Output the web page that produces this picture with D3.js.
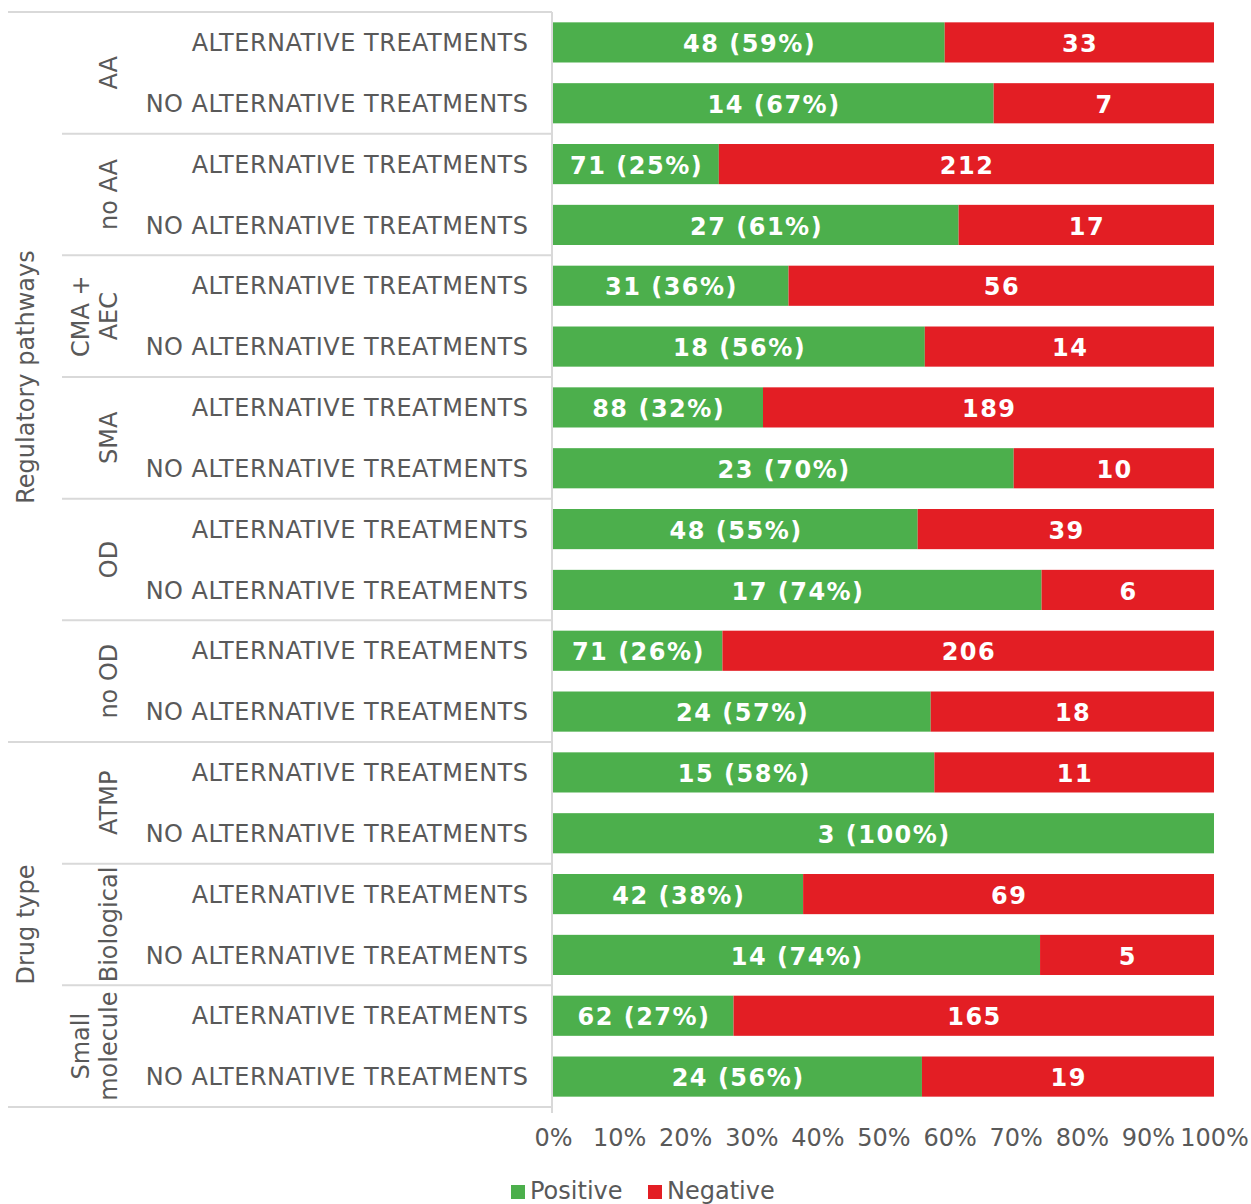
<!DOCTYPE html>
<html><head><meta charset="utf-8">
<script src="https://cdn.jsdelivr.net/npm/d3@7"></script>
<style>
html,body{margin:0;padding:0;background:#fff;}
text{font-family:"DejaVu Sans",Verdana,sans-serif;}
</style></head>
<body>
<svg id="chart" width="1251" height="1204"></svg>
<script>
// ---- data ----
const outerGroups = ["Regulatory pathways", "Drug type"];
const innerGroups = [
  {outer: "Regulatory pathways", lines: ["AA"]},
  {outer: "Regulatory pathways", lines: ["no AA"]},
  {outer: "Regulatory pathways", lines: ["CMA +", "AEC"]},
  {outer: "Regulatory pathways", lines: ["SMA"]},
  {outer: "Regulatory pathways", lines: ["OD"]},
  {outer: "Regulatory pathways", lines: ["no OD"]},
  {outer: "Drug type", lines: ["ATMP"]},
  {outer: "Drug type", lines: ["Biological"]},
  {outer: "Drug type", lines: ["Small", "molecule"]}
];
const rowCategories = ["ALTERNATIVE TREATMENTS", "NO ALTERNATIVE TREATMENTS"];
const positive = [48, 14, 71, 27, 31, 18, 88, 23, 48, 17, 71, 24, 15, 3, 42, 14, 62, 24];
const negative = [33, 7, 212, 17, 56, 14, 189, 10, 39, 6, 206, 18, 11, 0, 69, 5, 165, 19];
const xTicks = [0, 0.1, 0.2, 0.3, 0.4, 0.5, 0.6, 0.7, 0.8, 0.9, 1.0];
const seriesNames = ["Positive", "Negative"];
const seriesColors = ["#4caf4c", "#e31e24"];

(function () {
// ---- build rows ----
const rows = [];
innerGroups.forEach((g, gi) => {
  rowCategories.forEach((c, ci) => {
    const i = gi * 2 + ci;
    rows.push({id: i, group: gi, label: c, pos: positive[i], neg: negative[i]});
  });
});

const svg = d3.select("#chart");
const textColor = "#595959";
const lineColor = "#d9d9d9";
const pLeft = 553, pRight = 1214, pTop = 12, pBottom = 1107;
const fs = 24;

const x = d3.scaleLinear().domain([0, 1]).range([pLeft, pRight]);
const y = d3.scaleBand().domain(rows.map(r => r.id)).range([pTop, pBottom])
  .paddingInner(0.34).paddingOuter(0.17);
const step = y.step();
const groupTop = gi => pTop + gi * 2 * step;
const groupBottom = gi => pTop + (gi + 1) * 2 * step;

// ---- table lines ----
const lines = svg.append("g").attr("stroke", lineColor).attr("stroke-width", 2);
lines.append("line").attr("x1", 8).attr("x2", 552).attr("y1", pTop).attr("y2", pTop);
innerGroups.forEach((g, gi) => {
  if (gi === 0) return;
  const isOuterBoundary = innerGroups[gi - 1].outer !== g.outer;
  lines.append("line").attr("x1", isOuterBoundary ? 8 : 62).attr("x2", 552)
    .attr("y1", groupTop(gi)).attr("y2", groupTop(gi));
});
lines.append("line").attr("x1", 8).attr("x2", 552).attr("y1", pBottom).attr("y2", pBottom);
lines.append("line").attr("x1", 552).attr("x2", 552).attr("y1", pTop).attr("y2", pBottom + 6);

// ---- bars ----
const bars = svg.append("g");
rows.forEach(r => {
  const total = r.pos + r.neg;
  const f = r.pos / total;
  const yy = y(r.id), h = y.bandwidth();
  bars.append("rect").attr("x", x(0)).attr("y", yy).attr("width", x(f) - x(0)).attr("height", h)
    .attr("fill", seriesColors[0]);
  if (r.neg > 0) {
    bars.append("rect").attr("x", x(f)).attr("y", yy).attr("width", x(1) - x(f)).attr("height", h)
      .attr("fill", seriesColors[1]);
  }
  bars.append("text").attr("x", (x(0) + x(f)) / 2 + 0.75).attr("y", yy + h / 2 + 1)
    .attr("dy", "0.36em").attr("text-anchor", "middle")
    .attr("fill", "#fff").attr("font-weight", "bold").attr("font-size", 24)
    .attr("letter-spacing", 1.5)
    .text(`${r.pos} (${Math.round(f * 100)}%)`);
  if (r.neg > 0) {
    bars.append("text").attr("x", (x(f) + x(1)) / 2 + 0.75).attr("y", yy + h / 2 + 1)
      .attr("dy", "0.36em").attr("text-anchor", "middle")
      .attr("fill", "#fff").attr("font-weight", "bold").attr("font-size", 24)
      .attr("letter-spacing", 1.5)
      .text(r.neg);
  }
});

// ---- row labels ----
svg.append("g").selectAll("text").data(rows).join("text")
  .attr("x", 528.5).attr("y", d => y(d.id) + y.bandwidth() / 2)
  .attr("dy", "0.36em").attr("text-anchor", "end")
  .attr("fill", textColor).attr("font-size", fs).attr("letter-spacing", 0.5)
  .text(d => d.label);

// ---- inner group labels ----
innerGroups.forEach((g, gi) => {
  const cy = (groupTop(gi) + groupBottom(gi)) / 2;
  const n = g.lines.length;
  g.lines.forEach((ln, li) => {
    const cx = 108 - (n - 1 - li) * 28;
    svg.append("text").attr("transform", `translate(${cx},${cy}) rotate(-90)`)
      .attr("text-anchor", "middle").attr("dy", "0.36em")
      .attr("fill", textColor).attr("font-size", fs).text(ln);
  });
});

// ---- outer group labels ----
outerGroups.forEach(og => {
  const idx = innerGroups.map((g, i) => g.outer === og ? i : -1).filter(i => i >= 0);
  const cy = (groupTop(idx[0]) + groupBottom(idx[idx.length - 1])) / 2;
  svg.append("text").attr("transform", `translate(25,${cy}) rotate(-90)`)
    .attr("text-anchor", "middle").attr("dy", "0.36em")
    .attr("fill", textColor).attr("font-size", fs).text(og);
});

// ---- x axis ----
const axis = svg.append("g").attr("transform", `translate(0,${pBottom})`)
  .call(d3.axisBottom(x).tickValues(xTicks).tickFormat(d3.format(".0%")).tickSize(0).tickPadding(22));
axis.select(".domain").remove();
axis.selectAll("text").attr("fill", textColor).attr("font-size", fs)
  .attr("font-family", '"DejaVu Sans",Verdana,sans-serif');

// ---- legend ----
const legend = svg.append("g");
const legendX = [511, 648];
seriesNames.forEach((s, i) => {
  legend.append("rect").attr("x", legendX[i]).attr("y", 1185).attr("width", 14).attr("height", 14)
    .attr("fill", seriesColors[i]);
  legend.append("text").attr("x", legendX[i] + 19).attr("y", 1190).attr("dy", "0.36em")
    .attr("fill", textColor).attr("font-size", fs).text(s);
});
})();
</script>
</body></html>
